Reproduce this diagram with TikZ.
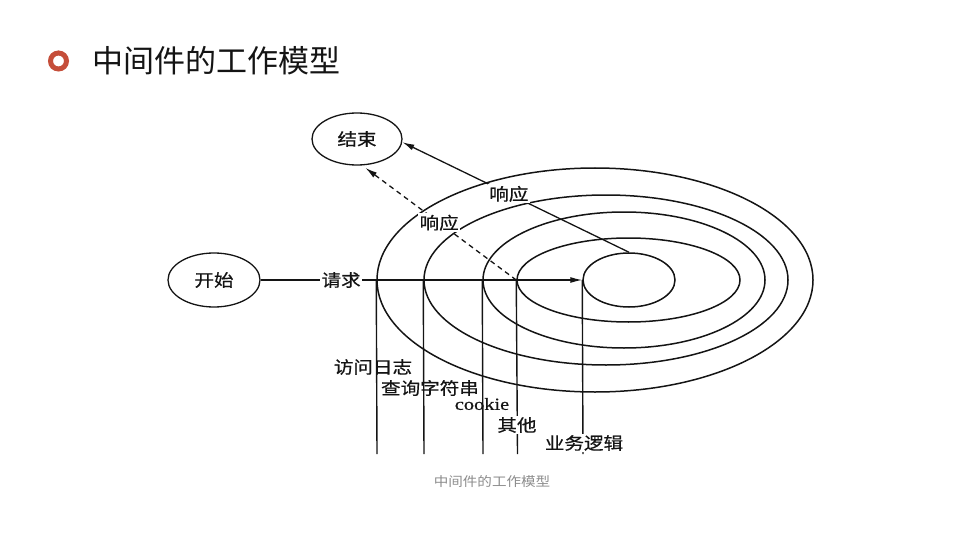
\documentclass[tikz,border=0pt]{standalone}
\usepackage{fontspec}
\setmainfont{Noto Sans CJK SC}
\newfontfamily\labfont[FakeStretch=1.15,FakeBold=0.6]{Noto Sans CJK SC}
\newfontfamily\capfont[FakeStretch=1.12]{Noto Sans CJK SC}
\newfontfamily\latinfont[FakeStretch=1.2,FakeBold=0.6]{Liberation Serif}
\usetikzlibrary{shapes.geometric,arrows.meta}
\definecolor{bulletred}{RGB}{197,78,58}
\definecolor{ink}{RGB}{20,20,20}
\definecolor{capgray}{RGB}{140,140,140}
\tikzset{
  ring/.style={draw=ink, ellipse, line width=1.5pt, inner sep=0pt},
  term/.style={draw=ink, ellipse, line width=1.3pt, inner sep=0pt},
  lab/.style={text=ink, inner sep=1.5pt, font=\labfont\fontsize{17}{17}\selectfont},
  wlab/.style={lab, fill=white},
  conn/.style={draw=ink, line width=1.3pt},
  arr/.style={conn, -{Latex[length=12pt,width=6pt]}},
  stem/.style={draw=ink, line width=1.4pt}
}
\begin{document}
\begin{tikzpicture}[x=1pt,y=-1pt]
\useasboundingbox (0,0) rectangle (960,540);
% title
\node[circle, draw=bulletred, line width=5pt, minimum size=16pt, inner sep=0pt] (bullet) at (58.5,61) {};
\node[anchor=west, text=ink, inner sep=0pt, font=\fontsize{31}{31}\selectfont] (title) at (92,61) {中间件的工作模型};
% rings
\node[ring, minimum width=436pt, minimum height=224pt] (e1) at (595,280) {};
\node[ring, minimum width=364pt, minimum height=170pt] (e2) at (606,280) {};
\node[ring, minimum width=282pt, minimum height=136pt] (e3) at (624,280) {};
\node[ring, minimum width=223pt, minimum height=84pt] (e4) at (628.5,280) {};
\node[ring, minimum width=92pt, minimum height=54pt] (core) at (629,280) {};
% terminals
\node[term, minimum width=90pt, minimum height=52pt, lab] (endn) at (357,139) {结束};
\node[term, minimum width=92pt, minimum height=54pt, lab] (startn) at (214,280) {开始};
% stems
\coordinate (v1) at (377,454);
\coordinate (v2) at (424,454);
\coordinate (v3) at (483,454);
\coordinate (v4) at (517.5,454);
\coordinate (v5) at (583,454);
\draw[stem] (e1.west) -- (v1);
\draw[stem] (e2.west) -- (v2);
\draw[stem] (e3.west) -- (v3);
\draw[stem] (e4.west) -- (v4);
\draw[stem] (core.west) -- (v5);
% request
\draw[arr] (startn) -- node[wlab, pos=0.25] (req) {请求} (core.west);
% responses
\draw[arr] (core.north) -- node[wlab, pos=0.53] (resp1) {响应} (endn.-4);
\draw[arr, dashed, dash pattern=on 5pt off 4pt, shorten >=4pt] (e4.west) -- node[wlab, pos=0.5] (resp2) {响应} (endn.-79);
% stem labels
\node[lab] (l1) at (373,367) {访问日志};
\node[lab] (l2) at (430,388) {查询字符串};
\node[text=ink, inner sep=1pt, font=\latinfont\fontsize{17}{17}\selectfont] (l3) at (482,404) {cookie};
\node[wlab] (l4) at (517,425) {其他};
\node[wlab] (l5) at (584,443) {业务逻辑};
% caption
\node[text=capgray, inner sep=0pt, font=\capfont\fontsize{13}{13}\selectfont] (cap) at (492,482) {中间件的工作模型};
\end{tikzpicture}
\end{document}
